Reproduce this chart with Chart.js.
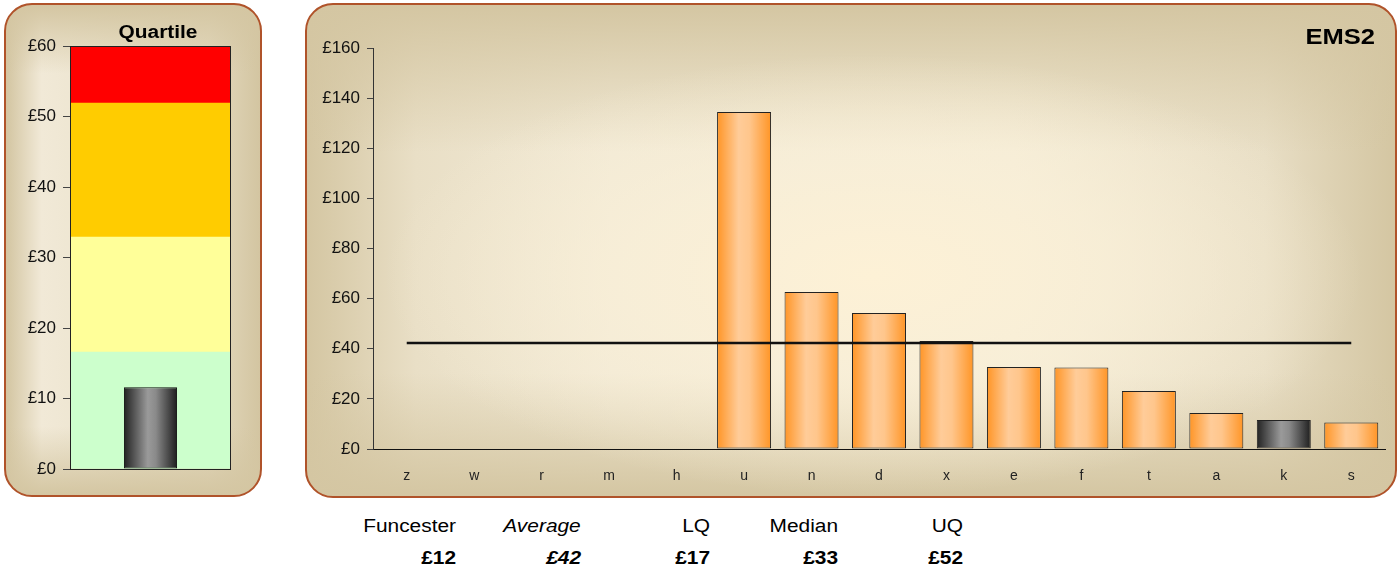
<!DOCTYPE html>
<html>
<head>
<meta charset="utf-8">
<script src="https://cdn.jsdelivr.net/npm/chart.js@4.4.1/dist/chart.umd.min.js"></script>
<style>
  html, body { margin: 0; padding: 0; background: #ffffff; width: 1399px; height: 571px; overflow: hidden; font-family: "Liberation Sans", Arial, sans-serif; }
  .panel { position: absolute; box-sizing: border-box; border: 2px solid #b0532a; border-radius: 28px; }
  #lp { left: 4px; top: 3px; width: 258px; height: 494px;
    background:
      linear-gradient(to bottom, rgba(212,198,162,1) 0%, rgba(212,198,162,0) 14%, rgba(212,198,162,0) 86%, rgba(212,198,162,1) 100%),
      linear-gradient(to right, #d3c5a1 0%, #f1e9d7 14%, #ebe3cc 45%, #e4dac0 80%, #d3c5a1 100%); }
  #rp { left: 305px; top: 3px; width: 1092px; height: 495px;
    background:
      radial-gradient(ellipse 45% 45% at 52% 55%, rgba(253,241,214,1) 0%, rgba(250,240,216,0.7) 50%, rgba(245,236,214,0) 100%),
      linear-gradient(to bottom, rgba(212,198,162,1) 0%, rgba(212,198,162,0) 30%, rgba(212,198,162,0) 75%, rgba(212,198,162,1) 100%),
      linear-gradient(to right, #d4c6a2 0%, #e9dfc6 10%, #f1e9d5 28%, #f3ebd6 65%, #e8dec5 88%, #d4c6a2 100%); }
  .cbox { position: absolute; }
  #lc { left: 4px; top: 3px; width: 257px; height: 493px; }
  #rc { left: 305px; top: 3px; width: 1091px; height: 494px; }
  .txt { position: absolute; white-space: nowrap; color: #000; transform: scaleX(1.16); }
  .r { transform-origin: right center; text-align: right; }
  .c { transform-origin: center center; }
</style>
</head>
<body>
<div class="panel" id="lp"></div>
<div class="panel" id="rp"></div>
<div class="cbox" id="lc"><canvas id="leftChart"></canvas></div>
<div class="cbox" id="rc"><canvas id="rightChart"></canvas></div>

<div class="txt c" id="qt" style="left:98px; top:22px; width:120px; text-align:center; font-weight:bold; font-size:18px;">Quartile</div>
<div class="txt r" id="et" style="right:24px; top:24px; font-weight:bold; font-size:22px;">EMS2</div>

<div id="stats"></div>

<script>
// ---------- data ----------
const categories = ['z','w','r','m','h','u','n','d','x','e','f','t','a','k','s'];
const costs      = [null,null,null,null,null,134.5,62.6,54.3,43.1,32.7,32.5,23.1,14.4,11.6,10.6];
const highlightCategory = 'k';
const average = 42.3;
const quartiles = [16.6, 32.9, 51.9];   // LQ, Median, UQ
const quartileMax = 60;
const localName = 'Funcester';
const localValue = 11.6;
const leftTicksStep = 10;
const rightTicksMax = 160;
const rightTicksStep = 20;
const bandColors = ['#ccffcc', '#ffff99', '#ffcc00', '#ff0000'];

Chart.defaults.font.family = '"Liberation Sans", Arial, sans-serif';
Chart.defaults.color = '#000';

function gradientFor(ctx, catCount, catPct, barPct, dark) {
  const chart = ctx.chart;
  const x = chart.scales && chart.scales.x;
  if (!chart.chartArea || !x) return dark ? '#777' : '#ffb366';
  const cx = x.getPixelForValue(ctx.dataIndex);
  const w = x.width / catCount * catPct * barPct;
  const g = chart.ctx.createLinearGradient(cx - w / 2, 0, cx + w / 2, 0);
  if (dark) {
    g.addColorStop(0, '#222222');
    g.addColorStop(0.45, '#9a9a9a');
    g.addColorStop(0.6, '#8a8a8a');
    g.addColorStop(1, '#1e1e1e');
  } else {
    g.addColorStop(0, '#ff9526');
    g.addColorStop(0.4, '#ffcc99');
    g.addColorStop(0.6, '#ffc68c');
    g.addColorStop(1, '#ff9526');
  }
  return g;
}

const frame = {
  id: 'frame',
  afterDatasetsDraw(chart) {
    const a = chart.chartArea, c = chart.ctx;
    c.save();
    c.strokeStyle = '#222';
    c.lineWidth = 1;
    c.strokeRect(Math.round(a.left) + 0.5, Math.round(a.top) + 0.5, Math.round(a.width) - 1, Math.round(a.height));
    c.restore();
  }
};

// ---------- left chart ----------
const bandLows = [0, quartiles[0], quartiles[1], quartiles[2]];
const bandHighs = [quartiles[0], quartiles[1], quartiles[2], quartileMax];
const bandDatasets = bandLows.map((lo, i) => ({
  data: [[lo, bandHighs[i]]],
  backgroundColor: bandColors[i],
  borderWidth: 0,
  barPercentage: 1,
  categoryPercentage: 1,
  grouped: false,
  order: 5
}));

new Chart(document.getElementById('leftChart'), {
  type: 'bar',
  data: {
    labels: [localName],
    datasets: [{
      data: [localValue],
      backgroundColor: (ctx) => gradientFor(ctx, 1, 1, 0.33, true),
      borderColor: '#111',
      borderWidth: 1,
      borderSkipped: false,
      barPercentage: 0.33,
      categoryPercentage: 1,
      grouped: false,
      order: 0
    }, ...bandDatasets]
  },
  options: {
    responsive: true, maintainAspectRatio: false, devicePixelRatio: 1,
    animation: false,
    layout: { padding: { left: 0, right: 30, top: 43, bottom: 27 } },
    plugins: { legend: { display: false }, tooltip: { enabled: false }, title: { display: false } },
    scales: {
      x: { display: false },
      y: {
        min: 0, max: quartileMax,
        afterFit(s) { s.width = 66; },
        ticks: { stepSize: leftTicksStep, padding: 7, font: { size: 17 }, color: '#111',
                 callback: v => '£' + v },
        grid: { drawOnChartArea: false, tickLength: 7, color: '#444' },
        border: { display: true, color: '#333' }
      }
    }
  },
  plugins: [frame]
});

// ---------- right chart ----------
new Chart(document.getElementById('rightChart'), {
  data: {
    labels: categories,
    datasets: [{
      type: 'line',
      data: categories.map(() => average),
      borderColor: '#111',
      borderWidth: 2.5,
      pointRadius: 0,
      fill: false,
      order: 0
    }, {
      type: 'bar',
      data: costs,
      backgroundColor: (ctx) => gradientFor(ctx, categories.length, 1, 0.8, categories[ctx.dataIndex] === highlightCategory),
      borderColor: '#222',
      borderWidth: 1,
      borderSkipped: false,
      barPercentage: 0.8,
      categoryPercentage: 1,
      order: 1
    }]
  },
  options: {
    responsive: true, maintainAspectRatio: false, devicePixelRatio: 1,
    animation: false,
    layout: { padding: { left: 0, right: 11, top: 45, bottom: 0 } },
    plugins: { legend: { display: false }, tooltip: { enabled: false } },
    scales: {
      x: {
        afterFit(s) { s.height = 48; },
        ticks: { padding: 11, font: { size: 14 }, color: '#222' },
        grid: { display: false },
        border: { display: true, color: '#111' }
      },
      y: {
        min: 0, max: rightTicksMax,
        afterFit(s) { s.width = 68; },
        ticks: { stepSize: rightTicksStep, padding: 7, font: { size: 17 }, color: '#111',
                 callback: v => '£' + v },
        grid: { drawOnChartArea: false, tickLength: 6, color: '#444' },
        border: { display: true, color: '#333' }
      }
    }
  }
});

// ---------- bottom stats ----------
const statLabels = [localName, 'Average', 'LQ', 'Median', 'UQ'];
const statValues = [localValue, average, quartiles[0], quartiles[1], quartiles[2]];
const statRight = [456, 581, 710, 838, 963];
const statsEl = document.getElementById('stats');
statLabels.forEach((lab, i) => {
  const italic = lab === 'Average' ? 'italic' : 'normal';
  const a = document.createElement('div');
  a.className = 'txt r';
  a.style.cssText = `right:${1399 - statRight[i]}px; top:516px; font-size:18px; font-style:${italic};`;
  a.textContent = lab;
  statsEl.appendChild(a);
  const b = document.createElement('div');
  b.className = 'txt r';
  b.style.cssText = `right:${1399 - statRight[i]}px; top:548px; font-size:18px; font-weight:bold; font-style:${italic};`;
  b.textContent = '£' + Math.round(statValues[i]);
  statsEl.appendChild(b);
});
</script>
</body>
</html>
